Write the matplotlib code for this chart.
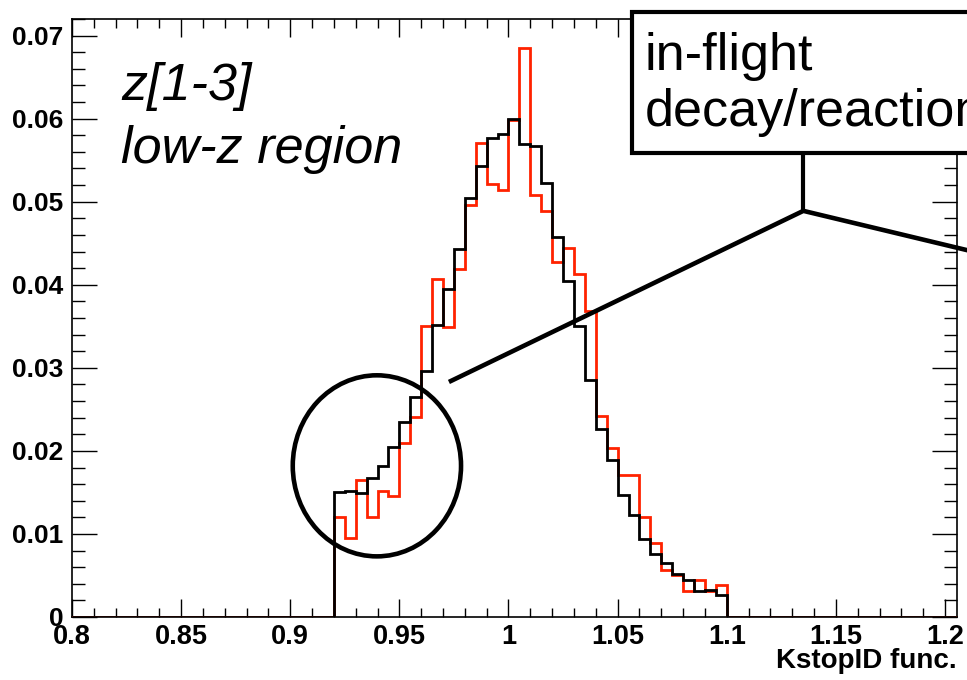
import numpy as np
import matplotlib
matplotlib.use('Agg')
import matplotlib.pyplot as plt
from matplotlib.patches import Ellipse, Rectangle
from matplotlib.ticker import MultipleLocator, FixedLocator, FixedFormatter

matplotlib.rcParams['font.family'] = ['Liberation Sans', 'DejaVu Sans']

# histogram binning (KstopID func.)
x_min, x_max = 0.8, 1.2055
bin_w = 0.005
first_edge = 0.92

# bin contents from 0.920 to 1.100, step 0.005
black_vals = [0.0150, 0.0152, 0.0149, 0.0167, 0.0182, 0.0205, 0.0235, 0.0265,
              0.0296, 0.0351, 0.0395, 0.0443, 0.0504, 0.0543, 0.0577, 0.0582,
              0.0600, 0.0569, 0.0567, 0.0523, 0.0457, 0.0404, 0.0350, 0.0285,
              0.0226, 0.0189, 0.0147, 0.0123, 0.0094, 0.0076, 0.0065, 0.0052,
              0.0044, 0.0031, 0.0033, 0.0027]
red_vals = [0.0121, 0.0095, 0.0165, 0.0121, 0.0152, 0.0146, 0.0209, 0.0241,
            0.0350, 0.0407, 0.0349, 0.0419, 0.0496, 0.0571, 0.0521, 0.0514,
            0.0598, 0.0685, 0.0508, 0.0489, 0.0427, 0.0444, 0.0413, 0.0368,
            0.0242, 0.0203, 0.0171, 0.0171, 0.0121, 0.0089, 0.0057, 0.0051,
            0.0031, 0.0045, 0.0031, 0.0039]

xticks = [0.8, 0.85, 0.9, 0.95, 1.0, 1.05, 1.1, 1.15, 1.2]
xtick_labels = ['0.8', '0.85', '0.9', '0.95', '1', '1.05', '1.1', '1.15', '1.2']
yticks = [0, 0.01, 0.02, 0.03, 0.04, 0.05, 0.06, 0.07]
ytick_labels = ['0', '0.01', '0.02', '0.03', '0.04', '0.05', '0.06', '0.07']


def padded(vals):
    n_lo = int(round((first_edge - x_min) / bin_w))
    n_tot = int(round((x_max - x_min) / bin_w))
    out = np.zeros(n_tot)
    out[n_lo:n_lo + len(vals)] = vals
    return out


W, H = 967, 680
fig = plt.figure(figsize=(W / 100, H / 100), dpi=100)
ax = fig.add_axes([72 / W, 63 / H, (957 - 72) / W, (617 - 19) / H])

red = padded(red_vals)
black = padded(black_vals)
edges = x_min + bin_w * np.arange(len(red) + 1)
ax.stairs(red, edges, color='#ff2200', lw=2, zorder=3)
ax.stairs(black, edges, color='black', lw=2, zorder=4)

ax.set_xlim(x_min, x_max)
ax.set_ylim(0, 0.072)

ax.xaxis.set_major_locator(FixedLocator(xticks))
ax.xaxis.set_major_formatter(FixedFormatter(xtick_labels))
ax.xaxis.set_minor_locator(MultipleLocator(0.01))
ax.yaxis.set_major_locator(FixedLocator(yticks))
ax.yaxis.set_major_formatter(FixedFormatter(ytick_labels))
ax.yaxis.set_minor_locator(MultipleLocator(0.002))

ax.tick_params(which='both', direction='in', top=True, right=True, width=1)
ax.tick_params(axis='x', which='major', length=13, pad=5)
ax.tick_params(axis='x', which='minor', length=6.5)
ax.tick_params(axis='y', which='major', length=18, pad=6)
ax.tick_params(axis='y', which='minor', length=9.5)
for lab in ax.get_xticklabels():
    lab.set_fontsize(19.5)
    lab.set_fontweight('bold')
for lab in ax.get_yticklabels():
    lab.set_fontsize(19)
    lab.set_fontweight('bold')
for sp in ax.spines.values():
    sp.set_linewidth(1.2)

# circled low region and pointer lines
ax.add_patch(Ellipse((0.9397, 0.0182), 0.0771, 0.0218, fill=False,
                     ec='black', lw=3.3, zorder=6))
ax.plot([1.1351, 1.1351], [0.0559, 0.0489], color='black', lw=3,
        solid_capstyle='butt', clip_on=False, zorder=6)
ax.plot([0.9727, 1.1351, 1.30], [0.0283, 0.0489, 0.0385], color='black',
        lw=3.3, solid_capstyle='butt', clip_on=False, zorder=6)

# label box (cut at the right edge)
box = Rectangle((632 / W, 1 - 153 / H), 0.6, (153 - 12) / H,
                transform=fig.transFigure, facecolor='white',
                edgecolor='black', lw=3, zorder=10)
fig.add_artist(box)
fig.text(645 / W, 1 - 70 / H, 'in-flight', fontsize=37.5, va='baseline',
         zorder=11)
fig.text(645 / W, 1 - 126 / H, 'decay/reaction', fontsize=37.5,
         va='baseline', zorder=11)

fig.text(121 / W, 1 - 100 / H, 'z[1-3]', fontsize=37.5, style='italic',
         va='baseline')
fig.text(121 / W, 1 - 163 / H, 'low-z region', fontsize=37.5, style='italic',
         va='baseline')

fig.text(957 / W, 1 - 668 / H, 'KstopID func.', fontsize=20,
         fontweight='bold', ha='right', va='baseline')

fig.savefig('out.png', dpi=100)
